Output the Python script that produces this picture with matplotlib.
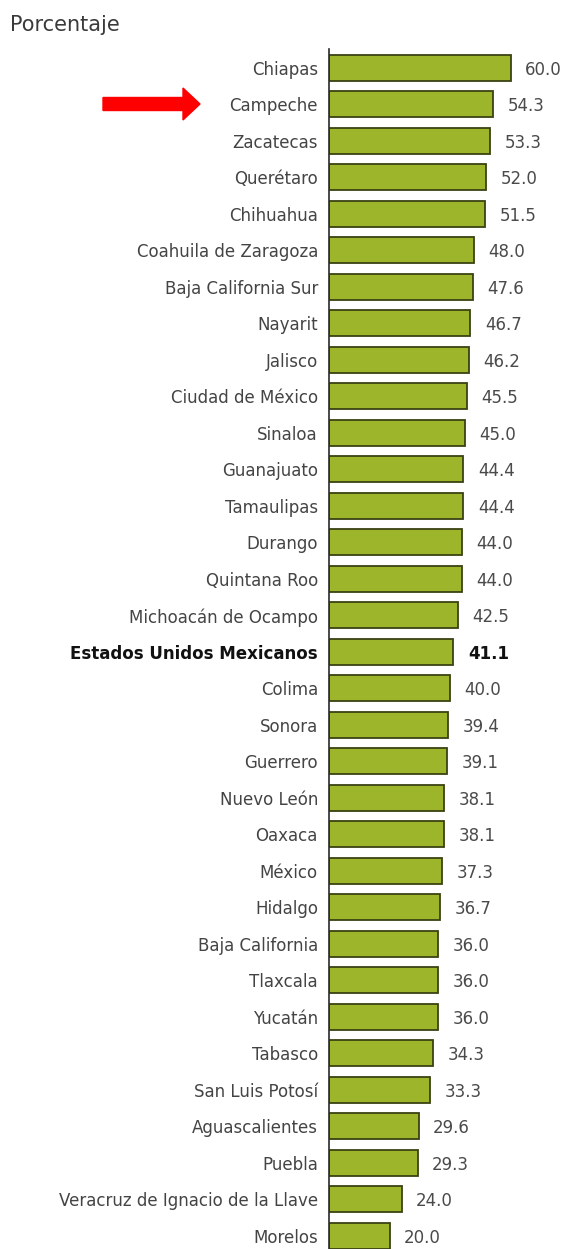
import matplotlib
matplotlib.use("Agg")
import matplotlib.pyplot as plt
from matplotlib.patches import FancyArrow

plt.rcParams['font.family'] = ['DejaVu Sans']

estados = ["Chiapas", "Campeche", "Zacatecas", "Querétaro", "Chihuahua",
           "Coahuila de Zaragoza", "Baja California Sur", "Nayarit", "Jalisco",
           "Ciudad de México", "Sinaloa", "Guanajuato", "Tamaulipas", "Durango",
           "Quintana Roo", "Michoacán de Ocampo", "Estados Unidos Mexicanos",
           "Colima", "Sonora", "Guerrero", "Nuevo León", "Oaxaca", "México",
           "Hidalgo", "Baja California", "Tlaxcala", "Yucatán", "Tabasco",
           "San Luis Potosí", "Aguascalientes", "Puebla",
           "Veracruz de Ignacio de la Llave", "Morelos"]
porcentaje = [60.0, 54.3, 53.3, 52.0, 51.5, 48.0, 47.6, 46.7, 46.2, 45.5, 45.0,
              44.4, 44.4, 44.0, 44.0, 42.5, 41.1, 40.0, 39.4, 39.1, 38.1, 38.1,
              37.3, 36.7, 36.0, 36.0, 36.0, 34.3, 33.3, 29.6, 29.3, 24.0, 20.0]
nacional = "Estados Unidos Mexicanos"

W, H = 568, 1249
fig = plt.figure(figsize=(W / 100, H / 100), dpi=100)
ax = fig.add_axes([329 / W, 0, 1 - 329 / W, 1 - 48.7 / H])

y = list(range(len(estados)))
ax.barh(y, porcentaje, height=0.72, color="#9db52a", edgecolor="#3b4212",
        linewidth=1.3)

ax.set_xlim(0, 79)
ax.set_ylim(32.36, -0.52)

for spine in ["top", "right", "bottom"]:
    ax.spines[spine].set_visible(False)
ax.spines["left"].set_color("#2a2a2a")
ax.spines["left"].set_linewidth(1.2)
ax.set_xticks([])
ax.set_yticks(y)
ax.set_yticklabels(estados, fontsize=12, color="#444444")
ax.tick_params(axis="y", length=0, pad=8)
for lbl in ax.get_yticklabels():
    if lbl.get_text() == nacional:
        lbl.set_fontweight("bold")
        lbl.set_color("#111111")

for i, v in enumerate(porcentaje):
    bold = estados[i] == nacional
    ax.text(v + 4.8, i + 0.05, f"{v:.1f}", va="center", ha="left", fontsize=12,
            color="#111111" if bold else "#4a4a4a",
            fontweight="bold" if bold else "normal")

fig.text(10 / W, 1 - 25 / H, "Porcentaje", fontsize=15, color="#3a3a3a",
         va="center", ha="left")

arrow = FancyArrow(103 / W, 1 - 104 / H, 97 / W, 0, width=13 / H,
                   head_width=32 / H, head_length=17 / W,
                   length_includes_head=True, color="#ff0000",
                   transform=fig.transFigure)
fig.patches.append(arrow)

fig.savefig("out.png", dpi=100)
